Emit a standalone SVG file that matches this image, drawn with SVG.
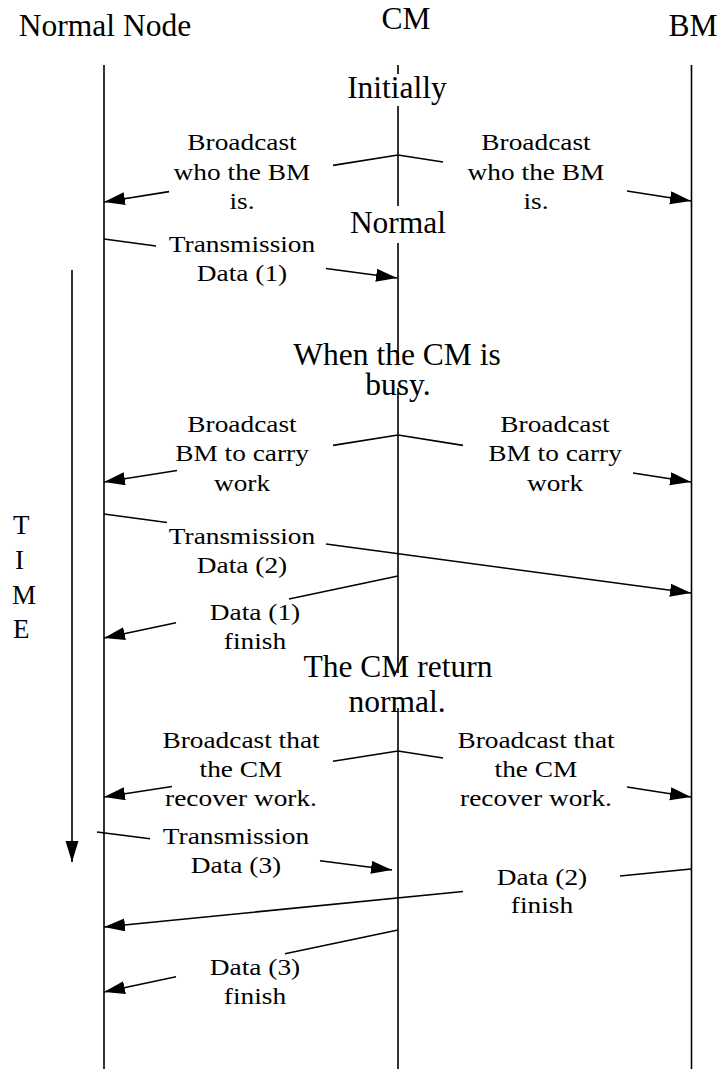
<svg xmlns="http://www.w3.org/2000/svg" width="720" height="1069" viewBox="0 0 720 1069">
<defs>
<style>
.hd{font-family:"Liberation Serif","Times New Roman",serif;font-size:31.5px;fill:#000;text-anchor:middle}
.lb{font-family:"Liberation Serif","Times New Roman",serif;font-size:23px;fill:#000;text-anchor:middle}
.tm{font-family:"Liberation Serif","Times New Roman",serif;font-size:27px;fill:#000}
.ll{stroke:#000;stroke-width:1.6;fill:none}
.ar{stroke:#000;stroke-width:1.6;fill:none;marker-end:url(#ah)}
</style>
<marker id="ah" markerUnits="userSpaceOnUse" markerWidth="22" markerHeight="14" refX="21" refY="6.5" orient="auto">
<path d="M0,0 L21,6.5 L0,13 z" fill="#000"/>
</marker>
</defs>
<rect width="720" height="1069" fill="#fff"/>

<g id="normal-node">
<text class="hd" x="105" y="36">Normal Node</text>
<path class="ll" d="M104,65 V1069"/>
</g>
<g id="cm">
<text class="hd" x="406" y="29">CM</text>
<path class="ll" d="M398,65 V74 M398,106 V206 M398,243 V362 M398,388 V673 M398,708 V1069"/>
</g>
<g id="bm">
<text class="hd" x="693" y="36">BM</text>
<path class="ll" d="M691.5,65 V1069"/>
</g>

<g id="phase-initially"><text class="hd" x="397" y="98">Initially</text></g>
<g id="phase-normal"><text class="hd" x="398" y="233">Normal</text></g>
<g id="phase-busy"><text class="hd" x="397" y="365">When the CM is</text><text class="hd" x="398" y="395">busy.</text></g>
<g id="phase-return"><text class="hd" x="398" y="677">The CM return</text><text class="hd" x="397" y="712">normal.</text></g>

<g id="time">
<text class="tm" x="13" y="534">T</text>
<text class="tm" x="15" y="569">I</text>
<text class="tm" x="12" y="604">M</text>
<text class="tm" x="13" y="638">E</text>
</g>

<g id="lbl-bc1-left" transform="translate(242,0) scale(1.19,1)">
<text class="lb" x="0" y="150">Broadcast</text><text class="lb" x="0" y="180">who the BM</text><text class="lb" x="0" y="209">is.</text>
</g>
<g id="lbl-bc1-right" transform="translate(536,0) scale(1.19,1)">
<text class="lb" x="0" y="150">Broadcast</text><text class="lb" x="0" y="180">who the BM</text><text class="lb" x="0" y="209">is.</text>
</g>
<g id="lbl-tx1" transform="translate(242,0) scale(1.19,1)">
<text class="lb" x="0" y="252">Transmission</text><text class="lb" x="0" y="281">Data (1)</text>
</g>
<g id="lbl-bc2-left" transform="translate(242,0) scale(1.19,1)">
<text class="lb" x="0" y="432">Broadcast</text><text class="lb" x="0" y="461.5">BM to carry</text><text class="lb" x="0" y="491">work</text>
</g>
<g id="lbl-bc2-right" transform="translate(555,0) scale(1.19,1)">
<text class="lb" x="0" y="432">Broadcast</text><text class="lb" x="0" y="461.5">BM to carry</text><text class="lb" x="0" y="491">work</text>
</g>
<g id="lbl-tx2" transform="translate(242,0) scale(1.19,1)">
<text class="lb" x="0" y="544">Transmission</text><text class="lb" x="0" y="573">Data (2)</text>
</g>
<g id="lbl-fin1" transform="translate(255,0) scale(1.19,1)">
<text class="lb" x="0" y="620">Data (1)</text><text class="lb" x="0" y="649">finish</text>
</g>
<g id="lbl-bc3-left" transform="translate(241,0) scale(1.19,1)">
<text class="lb" x="0" y="748">Broadcast that</text><text class="lb" x="0" y="777">the CM</text><text class="lb" x="0" y="806">recover work.</text>
</g>
<g id="lbl-bc3-right" transform="translate(536,0) scale(1.19,1)">
<text class="lb" x="0" y="748">Broadcast that</text><text class="lb" x="0" y="777">the CM</text><text class="lb" x="0" y="806">recover work.</text>
</g>
<g id="lbl-tx3" transform="translate(236,0) scale(1.19,1)">
<text class="lb" x="0" y="844">Transmission</text><text class="lb" x="0" y="873">Data (3)</text>
</g>
<g id="lbl-fin2" transform="translate(542,0) scale(1.19,1)">
<text class="lb" x="0" y="885">Data (2)</text><text class="lb" x="0" y="913">finish</text>
</g>
<g id="lbl-fin3" transform="translate(255,0) scale(1.19,1)">
<text class="lb" x="0" y="975">Data (3)</text><text class="lb" x="0" y="1004">finish</text>
</g>

<g id="connectors">
<path class="ar" d="M398,155 L333,165.4 M169,191.6 L104,202"/>
<path class="ar" d="M398,155 L443,162 M627,191 L691,201"/>
<path class="ar" d="M104,239 L156,246 M326,268.5 L397,278"/>
<path class="ar" d="M398,435 L333,445.4 M177,470.5 L104,482"/>
<path class="ar" d="M398,435 L463,445.4 M633,473 L691,482"/>
<path class="ar" d="M104,514 L167,522.5 M326,544 L691,593"/>
<path class="ar" d="M398,576 L289,599 M176,622.8 L104,638"/>
<path class="ar" d="M398,751 L333,761.2 M172,786.5 L104,797"/>
<path class="ar" d="M398,751 L443,758 M627,787 L691,797"/>
<path class="ar" d="M97,832 L150,838.8 M320,860.7 L392,870"/>
<path class="ar" d="M691,869 L620,876 M463,891.5 L104,927"/>
<path class="ar" d="M398,930 L285,953.8 M176,976.8 L104,992"/>
<path class="ar" d="M72,270 L72,862"/>
</g>
</svg>
